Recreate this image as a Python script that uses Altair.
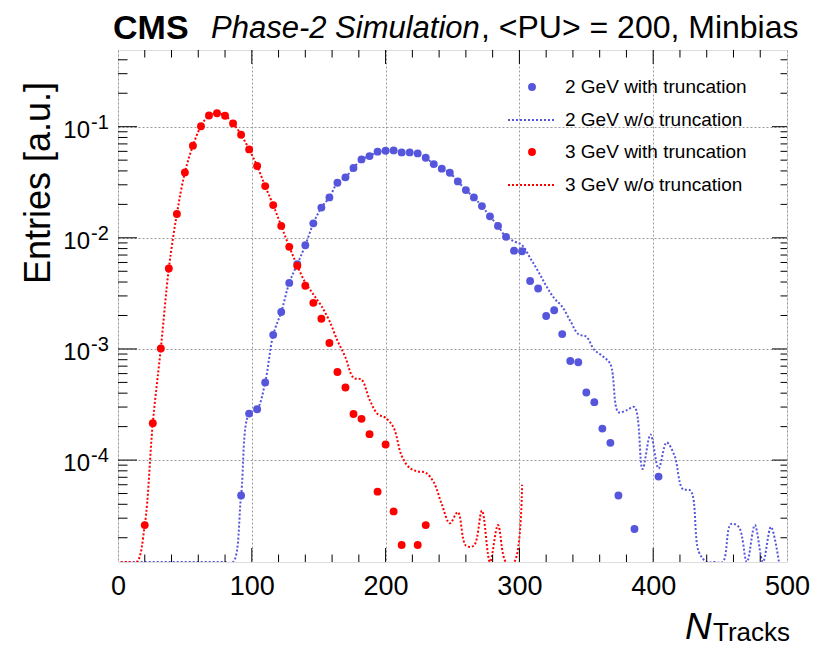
import altair as alt
import pandas as pd

# ---------------- axis range ----------------
YMIN = 1.21e-5          # bottom of frame (empty bins are drawn here)
YMAX = 0.49
XMIN, XMAX = 0, 500
EMPTY = YMIN

# ---------------- data (bin centres, N_tracks) ----------------
red_pts_x = [20, 26, 32, 38, 44, 50, 56, 62, 68, 74, 80, 86, 92, 98, 104, 110, 116, 122,
             128, 134, 140, 146, 152, 158, 164, 170, 176, 182, 188, 194, 200, 206, 212,
             224, 230]
red_pts_y = [2.6e-5, 2.15e-4, 1.01e-3, 5.3e-3, 0.0164, 0.0388, 0.0675, 0.101, 0.126,
             0.132, 0.1256, 0.107, 0.0847, 0.0625, 0.0443, 0.0292, 0.0197, 0.0128,
             0.0083, 0.0056, 0.0037, 0.0026, 0.00187, 0.00113, 6.2e-4, 4.5e-4, 2.6e-4,
             2.35e-4, 1.71e-4, 5.2e-5, 1.38e-4, 3.45e-5, 1.72e-5, 1.72e-5, 2.6e-5]

red_line_x = [2, 8, 14, 20, 26, 32, 38, 44, 50, 56, 62, 68, 74, 80, 86, 92, 98, 104, 110,
              116, 122, 128, 134, 140, 146, 152, 158, 164, 170, 176, 182, 188, 194, 200,
              206, 212, 218, 224, 230, 236, 242, 248, 254, 260, 266, 272, 278, 284, 290,
              296, 302]
red_line_y = [EMPTY, EMPTY, EMPTY,
              2.6e-5, 2.15e-4, 1.01e-3, 5.3e-3, 0.0164, 0.0388, 0.0675, 0.101, 0.126,
              0.132, 0.1256, 0.107, 0.0847, 0.0625, 0.0443, 0.0292, 0.0197, 0.0128,
              0.0083, 0.0056,
              3.95e-3, 3.1e-3, 2.44e-3, 1.79e-3, 1.19e-3, 8.4e-4, 5.5e-4, 5.3e-4, 3.5e-4,
              2.6e-4, 2.4e-4, 1.96e-4, 1.09e-4, 8.5e-5, 7.9e-5, 7.7e-5, 6.3e-5, 4.0e-5,
              2.7e-5, 3.4e-5, 1.7e-5, 1.7e-5, 3.5e-5, EMPTY, 2.6e-5, EMPTY, EMPTY, 6e-5]

blue_pts_x = [92, 98, 104, 110, 116, 122, 128, 134, 140, 146, 152, 158, 164, 170, 176,
              182, 188, 194, 200, 206, 212, 218, 224, 230, 236, 242, 248, 254, 260, 266,
              272, 278, 284, 290, 296, 302, 308, 314, 320, 326, 332, 338, 344, 350, 356,
              362, 368, 374, 386, 404]
blue_pts_y = [4.8e-5, 2.62e-4, 2.87e-4, 5.0e-4, 1.34e-3, 2.15e-3, 3.93e-3, 5.8e-3, 8.57e-3,
              0.0135, 0.0187, 0.0231, 0.0313, 0.035, 0.0425, 0.0508, 0.0544, 0.0596,
              0.0608, 0.0612, 0.0587, 0.0587, 0.0575, 0.0526, 0.0461, 0.0419, 0.0385,
              0.0322, 0.0269, 0.0231, 0.0193, 0.0156, 0.0128, 0.0102, 7.67e-3, 7.57e-3,
              4.09e-3, 3.5e-3, 1.98e-3, 2.23e-3, 1.36e-3, 7.8e-4, 7.6e-4, 4.06e-4, 3.32e-4,
              1.92e-4, 1.43e-4, 4.8e-5, 2.4e-5, 7.1e-5]

blue_line_x = [2, 8, 14, 20, 26, 32, 38, 44, 50, 56, 62, 68, 74, 80, 86, 92, 98, 104, 110,
               116, 122, 128, 134, 140, 146, 152, 158, 164, 170, 176, 182, 188, 194, 200,
               206, 212, 218, 224, 230, 236, 242, 248, 254, 260, 266, 272, 278, 284, 290,
               296, 302, 308, 314, 320, 326, 332, 338, 344, 350, 356, 362, 368, 374, 380,
               386, 392, 398, 404, 410, 416, 422, 428, 434, 440, 446, 452, 458, 464, 470,
               476, 482, 488, 494]
blue_line_y = [EMPTY] * 15 + [
    4.8e-5, 2.62e-4, 2.87e-4, 5.0e-4, 1.34e-3, 2.15e-3, 3.93e-3, 5.8e-3, 8.57e-3,
    0.0135, 0.0187, 0.0231, 0.0313, 0.035, 0.0425, 0.0508, 0.0544, 0.0596,
    0.0608, 0.0612, 0.0587, 0.0587, 0.0575, 0.0526, 0.0461, 0.0419, 0.0385,
    0.0322, 0.0269, 0.0231, 0.0193, 0.0156, 0.0128, 0.0102,
    9.3e-3, 8.6e-3, 6.6e-3, 5.0e-3, 3.7e-3, 2.86e-3, 2.4e-3, 1.79e-3, 1.36e-3, 1.29e-3,
    9.8e-4, 8.65e-4, 7.3e-4, 2.7e-4, 2.8e-4, 3.0e-4, 8.3e-5, 1.7e-4, 8.4e-5, 1.44e-4,
    1.09e-4, 5.5e-5, 5.3e-5, 1.5e-5, EMPTY, EMPTY, EMPTY, 2.65e-5, 2.5e-5, EMPTY,
    2.6e-5, EMPTY, 2.5e-5, EMPTY]

# axis ticks / labels
x_labels = [0, 100, 200, 300, 400, 500]
x_major = [100, 200, 300, 400]
x_minor = [20, 40, 60, 80, 120, 140, 160, 180, 220, 240, 260, 280, 320, 340, 360, 380,
           420, 440, 460, 480]
y_major = [1e-1, 1e-2, 1e-3, 1e-4]
y_exp = ["-1", "-2", "-3", "-4"]
y_minor = [m * d for d in [1e-5, 1e-4, 1e-3, 1e-2, 1e-1] for m in range(2, 10)
           if YMIN < m * d < YMAX]

legend_labels = ["2 GeV with truncation", "2 GeV w/o truncation",
                 "3 GeV with truncation", "3 GeV w/o truncation"]

BLUE = "#5656dc"
RED = "#ff0000"
FONT = "Liberation Sans"
W, H = 669, 512

xs = alt.Scale(domain=[XMIN, XMAX], nice=False, zero=False)
ys = alt.Scale(type="log", domain=[YMIN, YMAX], nice=False)

xaxis = alt.Axis(values=x_labels, grid=True, gridDash=[2, 2], gridColor="#9a9a9a",
                 gridWidth=1, ticks=False, domain=False, labelFontSize=27,
                 labelFont=FONT, labelColor="black", labelPadding=11,
                 labelFlush=False, title=None)
yaxis = alt.Axis(values=y_major, grid=True, gridDash=[2, 2], gridColor="#9a9a9a",
                 gridWidth=1, ticks=False, domain=False, labels=False, title=None)


def X(field):
    return alt.X(field, scale=xs, axis=xaxis)


def Y(field):
    return alt.Y(field, scale=ys, axis=yaxis)


df_rl = pd.DataFrame({"x": red_line_x, "y": red_line_y})
df_bl = pd.DataFrame({"x": blue_line_x, "y": blue_line_y})
df_rp = pd.DataFrame({"x": red_pts_x, "y": red_pts_y})
df_bp = pd.DataFrame({"x": blue_pts_x, "y": blue_pts_y})


def line(df, color):
    return alt.Chart(df).mark_line(color=color, strokeWidth=2, strokeDash=[2, 2],
                                   interpolate="catmull-rom", clip=True).encode(
        x=X("x:Q"), y=Y("y:Q"))


def pts(df, color):
    return alt.Chart(df).mark_circle(color=color, size=62, opacity=1).encode(
        x=X("x:Q"), y=Y("y:Q"))


# ticks (inward, ROOT style)
df_xmaj = pd.DataFrame({"v": x_major})
df_xmin = pd.DataFrame({"v": x_minor})
df_ymaj = pd.DataFrame({"v": y_major, "e": y_exp})
df_ymin = pd.DataFrame({"v": y_minor})


def xticks(df, length):
    bot = alt.Chart(df).mark_rule(color="black", strokeWidth=1).encode(
        x=X("v:Q"), y=alt.value(H), y2=alt.value(H - length))
    top = alt.Chart(df).mark_rule(color="black", strokeWidth=1).encode(
        x=X("v:Q"), y=alt.value(0), y2=alt.value(length))
    return [bot, top]


def yticks(df, lleft, lright):
    left = alt.Chart(df).mark_rule(color="black", strokeWidth=1).encode(
        y=Y("v:Q"), x=alt.value(0), x2=alt.value(lleft))
    right = alt.Chart(df).mark_rule(color="black", strokeWidth=1).encode(
        y=Y("v:Q"), x=alt.value(W), x2=alt.value(W - lright))
    return [left, right]


ticks = (xticks(df_xmaj, 14) + xticks(df_xmin, 7.5) +
         yticks(df_ymaj, 19, 15) + yticks(df_ymin, 9.5, 6.5))

# y tick labels 10^n
ylab_base = alt.Chart(df_ymaj).mark_text(font=FONT, fontSize=24, align="right",
                                         baseline="middle", dy=4).encode(
    y=Y("v:Q"), x=alt.value(-28), text=alt.value("10"))
ylab_exp = alt.Chart(df_ymaj).mark_text(font=FONT, fontSize=20, align="left",
                                        baseline="middle", dy=-4).encode(
    y=Y("v:Q"), x=alt.value(-27), text="e:N")


def txt(s, x, y, size, align="left", style="normal", weight="normal", angle=0,
        baseline="alphabetic"):
    kw = dict(font=FONT, fontSize=size, align=align, fontStyle=style,
              fontWeight=weight, baseline=baseline, color="black")
    if angle:
        kw["angle"] = angle
    return alt.Chart(pd.DataFrame({"t": [s]})).mark_text(**kw).encode(
        x=alt.value(x), y=alt.value(y), text="t:N")


# header
header = [
    txt("CMS", -5, -11, 34, weight="bold"),
    txt("Phase-2 Simulation", 93, -12.5, 31, style="italic"),
    txt(", <PU> = 200, Minbias", 363, -12.5, 32),
]

# axis titles
ytitle = txt("Entries [a.u.]", -68, 133, 36, align="center", angle=270)
xtitle = [txt("N", 567, 589, 37, style="italic"),
          txt("Tracks", 595, 591, 26)]


# legend
def ldot(color, y):
    return alt.Chart(pd.DataFrame({"a": [0]})).mark_circle(
        color=color, size=62, opacity=1).encode(x=alt.value(414), y=alt.value(y))


def lline(color, y):
    return alt.Chart(pd.DataFrame({"a": [0]})).mark_rule(
        color=color, strokeWidth=2, strokeDash=[2, 2]).encode(
        x=alt.value(390), x2=alt.value(437), y=alt.value(y))


leg_y = [37, 70, 102, 135]
legend = [ldot(BLUE, leg_y[0]), lline(BLUE, leg_y[1]),
          ldot(RED, leg_y[2]), lline(RED, leg_y[3])]
legend += [txt(s, 447, yy, 19, baseline="middle") for s, yy in zip(legend_labels, leg_y)]

chart = alt.layer(
    line(df_bl, BLUE), line(df_rl, RED),
    pts(df_bp, BLUE), pts(df_rp, RED),
    *ticks, ylab_base, ylab_exp, *header, ytitle, *xtitle, *legend,
).properties(
    width=W, height=H,
    autosize=alt.AutoSizeParams(type="none"),
    padding={"left": 110, "top": 42, "right": 25, "bottom": 86},
).configure_view(stroke="black", strokeWidth=1.5).configure(background="white")

chart.save("out.html", embed_options={"renderer": "svg", "actions": False})
